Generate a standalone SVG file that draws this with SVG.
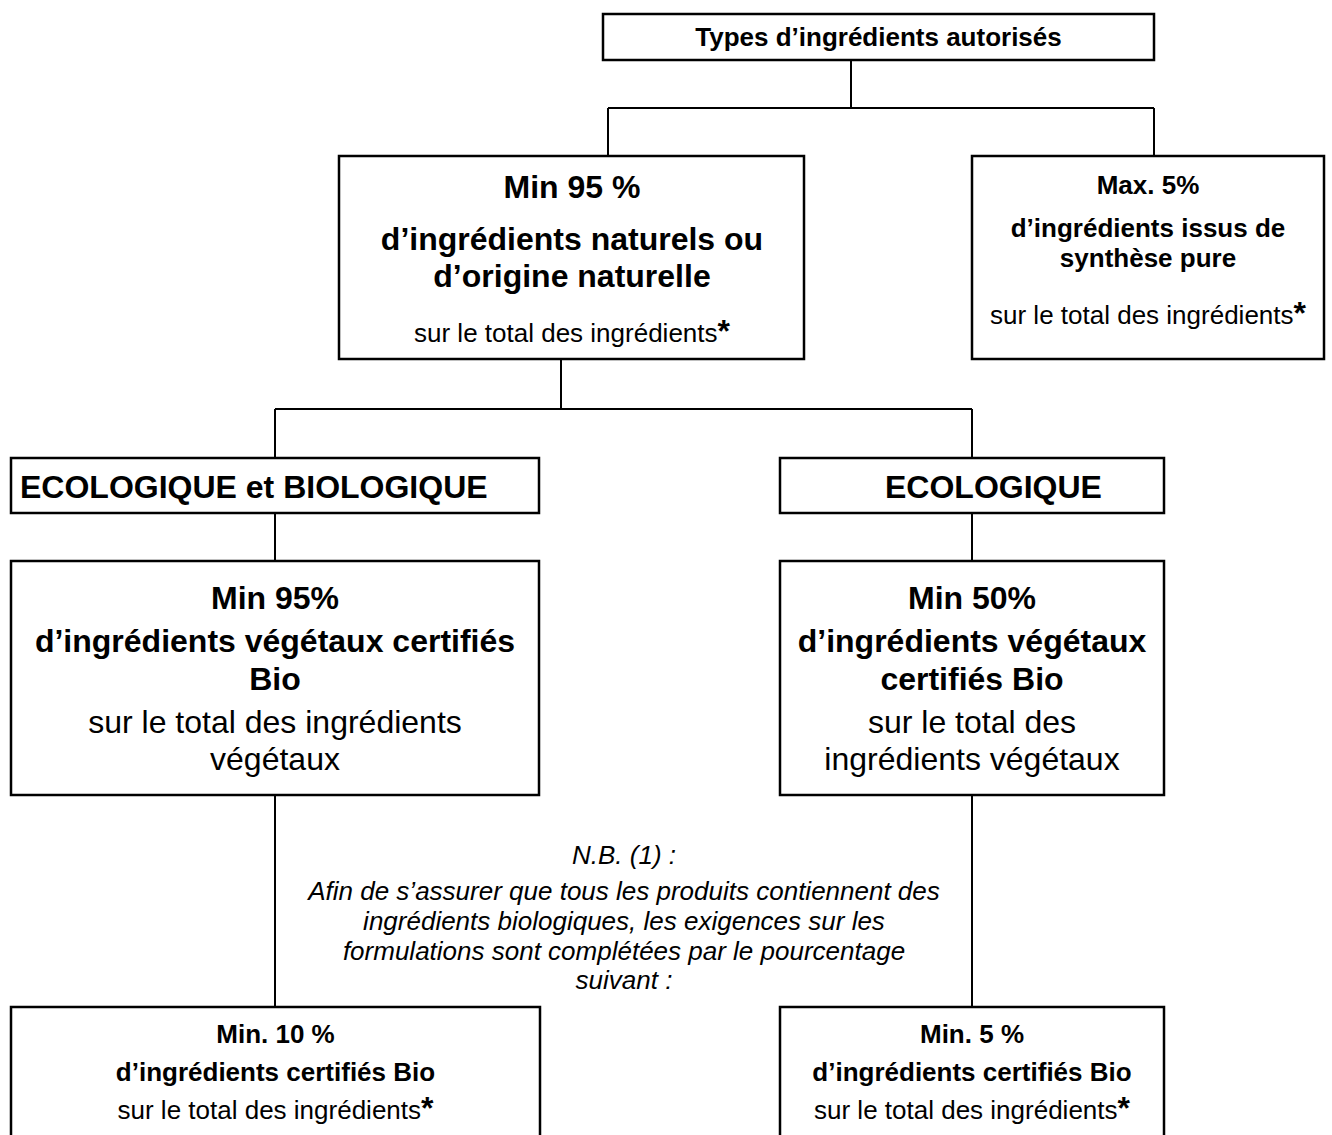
<svg xmlns="http://www.w3.org/2000/svg" width="1332" height="1135" viewBox="0 0 1332 1135">
<style>
text{font-family:"Liberation Sans",Arial,sans-serif;fill:#000;text-anchor:middle}
.box{fill:#fff;stroke:#000;stroke-width:2.5}
.edge{fill:none;stroke:#000;stroke-width:2}
.b26{font-size:26px;font-weight:bold}
.b32{font-size:32px;font-weight:bold}
.r26{font-size:26px}
.r32{font-size:32px}
.i26{font-size:26px;font-style:italic}
.ast{font-size:32px;font-weight:bold}
</style>
<rect width="1332" height="1135" fill="#fff"/>
<g id="connectors">
<path class="edge" d="M851 60V108M608 108H1154M608 108V156M1154 108V156"/>
<path class="edge" d="M561 359V409M275 409H972M275 409V458M972 409V458"/>
<path class="edge" d="M275 513V561M972 513V561"/>
<path class="edge" d="M275 795V1007M972 795V1007"/>
</g>
<g id="n_types">
<rect class="box" x="603" y="14" width="551" height="46"/>
<text class="b26" x="878.5" y="46">Types d’ingrédients autorisés</text>
</g>
<g id="n_min95nat">
<rect class="box" x="339" y="156" width="465" height="203"/>
<text class="b32" x="572" y="198">Min 95 %</text>
<text class="b32" x="572" y="250">d’ingrédients naturels ou</text>
<text class="b32" x="572" y="287">d’origine naturelle</text>
<text class="r26" x="572" y="342">sur le total des ingrédients<tspan class="ast">*</tspan></text>
</g>
<g id="n_max5">
<rect class="box" x="972" y="156" width="352" height="203"/>
<text class="b26" x="1148" y="194">Max. 5%</text>
<text class="b26" x="1148" y="237">d’ingrédients issus de</text>
<text class="b26" x="1148" y="267">synthèse pure</text>
<text class="r26" x="1148" y="324">sur le total des ingrédients<tspan class="ast">*</tspan></text>
</g>
<g id="n_ecobio">
<rect class="box" x="11" y="458" width="528" height="55"/>
<text class="b32" x="20" y="498" style="text-anchor:start">ECOLOGIQUE et BIOLOGIQUE</text>
</g>
<g id="n_eco">
<rect class="box" x="780" y="458" width="384" height="55"/>
<text class="b32" x="885" y="498" style="text-anchor:start">ECOLOGIQUE</text>
</g>
<g id="n_min95veg">
<rect class="box" x="11" y="561" width="528" height="234"/>
<text class="b32" x="275" y="609">Min 95%</text>
<text class="b32" x="275" y="652">d’ingrédients végétaux certifiés</text>
<text class="b32" x="275" y="690">Bio</text>
<text class="r32" x="275" y="733">sur le total des ingrédients</text>
<text class="r32" x="275" y="770">végétaux</text>
</g>
<g id="n_min50veg">
<rect class="box" x="780" y="561" width="384" height="234"/>
<text class="b32" x="972" y="609">Min 50%</text>
<text class="b32" x="972" y="652">d’ingrédients végétaux</text>
<text class="b32" x="972" y="690">certifiés Bio</text>
<text class="r32" x="972" y="733">sur le total des</text>
<text class="r32" x="972" y="770">ingrédients végétaux</text>
</g>
<g id="n_nb">
<text class="i26" x="624" y="864">N.B. (1) :</text>
<text class="i26" x="624" y="900">Afin de s’assurer que tous les produits contiennent des</text>
<text class="i26" x="624" y="930">ingrédients biologiques, les exigences sur les</text>
<text class="i26" x="624" y="960">formulations sont complétées par le pourcentage</text>
<text class="i26" x="624" y="989">suivant :</text>
</g>
<g id="n_min10">
<rect class="box" x="11" y="1007" width="529" height="150"/>
<text class="b26" x="275.5" y="1043">Min. 10 %</text>
<text class="b26" x="275.5" y="1081">d’ingrédients certifiés Bio</text>
<text class="r26" x="275.5" y="1119">sur le total des ingrédients<tspan class="ast">*</tspan></text>
</g>
<g id="n_min5">
<rect class="box" x="780" y="1007" width="384" height="150"/>
<text class="b26" x="972" y="1043">Min. 5 %</text>
<text class="b26" x="972" y="1081">d’ingrédients certifiés Bio</text>
<text class="r26" x="972" y="1119">sur le total des ingrédients<tspan class="ast">*</tspan></text>
</g>
</svg>
